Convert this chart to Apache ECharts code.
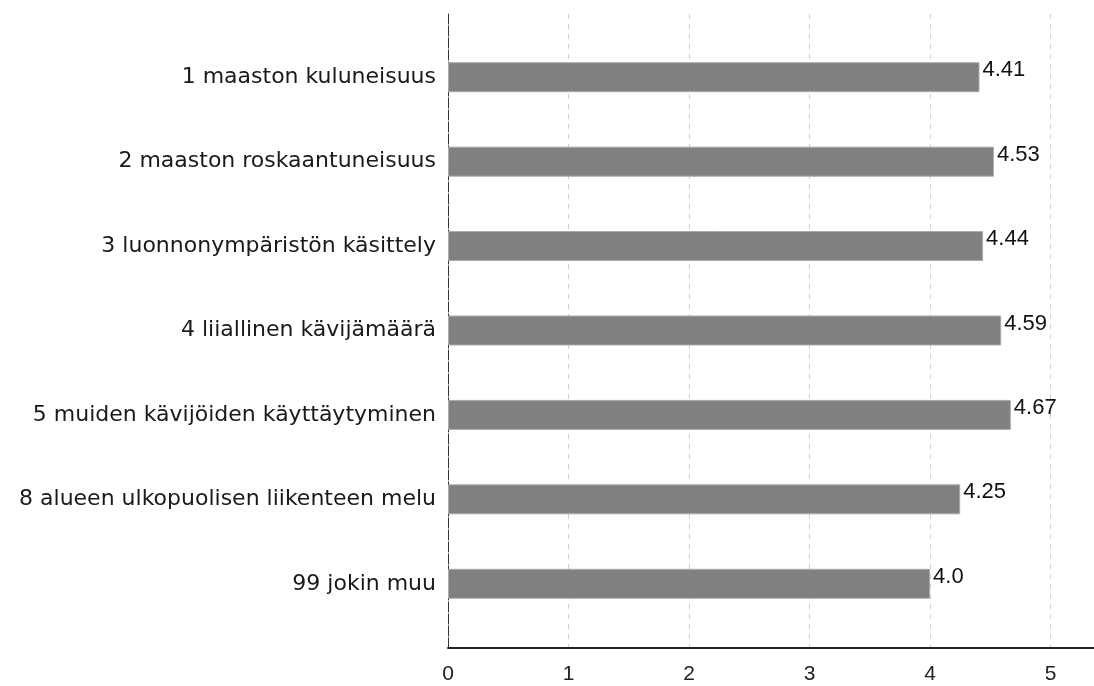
<!DOCTYPE html>
<html>
<head>
<meta charset="utf-8">
<script src="https://cdn.jsdelivr.net/npm/echarts@6/dist/echarts.min.js"></script>
<style>
  html, body { margin: 0; padding: 0; background: #fff; }
  #chart { width: 1094px; height: 686px; }
</style>
</head>
<body>
<div id="chart"></div>
<script>
// data
const categories = [
  '1 maaston kuluneisuus',
  '2 maaston roskaantuneisuus',
  '3 luonnonympäristön käsittely',
  '4 liiallinen kävijämäärä',
  '5 muiden kävijöiden käyttäytyminen',
  '8 alueen ulkopuolisen liikenteen melu',
  '99 jokin muu'
];
const means = [4.41, 4.53, 4.44, 4.59, 4.67, 4.25, 4.0];
const xMax = 5.36;

const chart = echarts.init(document.getElementById('chart'));
chart.setOption({
  backgroundColor: '#fff',
  animation: false,
  // grid 0 = outer frame (axes + gridlines), grid 1 = bars with padding top/bottom
  grid: [
    { left: 448, right: 0, top: 14, bottom: 38 },
    { left: 448, right: 0, top: 35, bottom: 60 }
  ],
  xAxis: [
    {
      gridIndex: 0,
      type: 'value',
      min: 0,
      max: xMax,
      interval: 1,
      axisLine: { show: true, lineStyle: { color: '#222', width: 2 } },
      axisTick: { show: false },
      axisLabel: {
        showMaxLabel: false,
        margin: 16,
        fontSize: 21,
        color: '#222',
        fontFamily: 'Liberation Sans'
      },
      splitLine: { show: true, lineStyle: { color: '#d0d0d0', type: [5, 5] } }
    },
    { gridIndex: 1, type: 'value', min: 0, max: xMax, show: false }
  ],
  yAxis: [
    {
      gridIndex: 0,
      type: 'value',
      min: 0,
      max: 1,
      axisLine: { show: true, lineStyle: { color: '#333', width: 1, type: [10, 2] } },
      axisTick: { show: false },
      axisLabel: { show: false },
      splitLine: { show: false }
    },
    {
      gridIndex: 1,
      type: 'category',
      inverse: true,
      data: categories,
      axisLine: { show: false },
      axisTick: { show: false },
      axisLabel: {
        margin: 12,
        fontSize: 22,
        color: '#1a1a1a',
        fontFamily: 'DejaVu Sans'
      }
    }
  ],
  series: [
    {
      type: 'bar',
      xAxisIndex: 1,
      yAxisIndex: 1,
      data: means,
      barWidth: 30,
      itemStyle: { color: '#808080', borderColor: '#ababab', borderWidth: 1 },
      label: {
        show: true,
        position: 'right',
        distance: 3,
        offset: [0, -7],
        fontSize: 22,
        color: '#111',
        fontFamily: 'Liberation Sans',
        formatter: p => Number.isInteger(p.value) ? p.value.toFixed(1) : String(p.value)
      }
    }
  ]
});
</script>
</body>
</html>
